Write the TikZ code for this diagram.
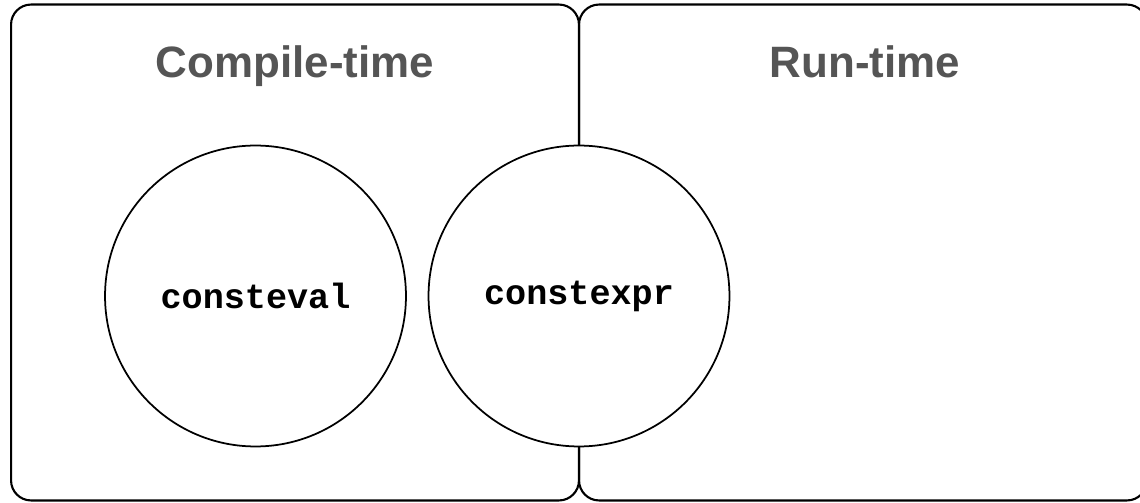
\documentclass[tikz,border=0pt]{standalone}
\usepackage{fontspec}
\setmainfont{Liberation Sans}
\setmonofont{Liberation Mono}
\usepackage{tikz}
\usepackage{xcolor}
\usetikzlibrary{positioning}

\definecolor{titlegray}{HTML}{555555}

\begin{document}
\begin{tikzpicture}[
    x=0.02cm, y=-0.02cm,
    panel/.style={rectangle, draw=black, line width=1.2pt, rounded corners=0.4cm, minimum width=11.36cm, minimum height=9.92cm, inner sep=0pt},
    title/.style={anchor=base, text=titlegray, font=\fontsize{25}{30}\selectfont\bfseries},
    keyword/.style={circle, draw=black, line width=1pt, fill=white, minimum size=6.02cm, inner sep=0pt, font=\fontsize{20}{24}\selectfont\ttfamily\bfseries}
]

\useasboundingbox (0,0) rectangle (1140,503);

% Panels
\node[panel] (compile) at (295,252.5) {};
\node[panel] (run) at (863,252.5) {};

% Titles
\node[title] (compiletitle) at (295,78) {Compile-time};
\node[title] (runtitle) at (865,78) {Run-time};

% Keywords
\node[keyword] (consteval) at (255.5,296) {consteval};
\node[keyword] (constexpr) at (579,296) {constexpr};

\end{tikzpicture}
\end{document}
